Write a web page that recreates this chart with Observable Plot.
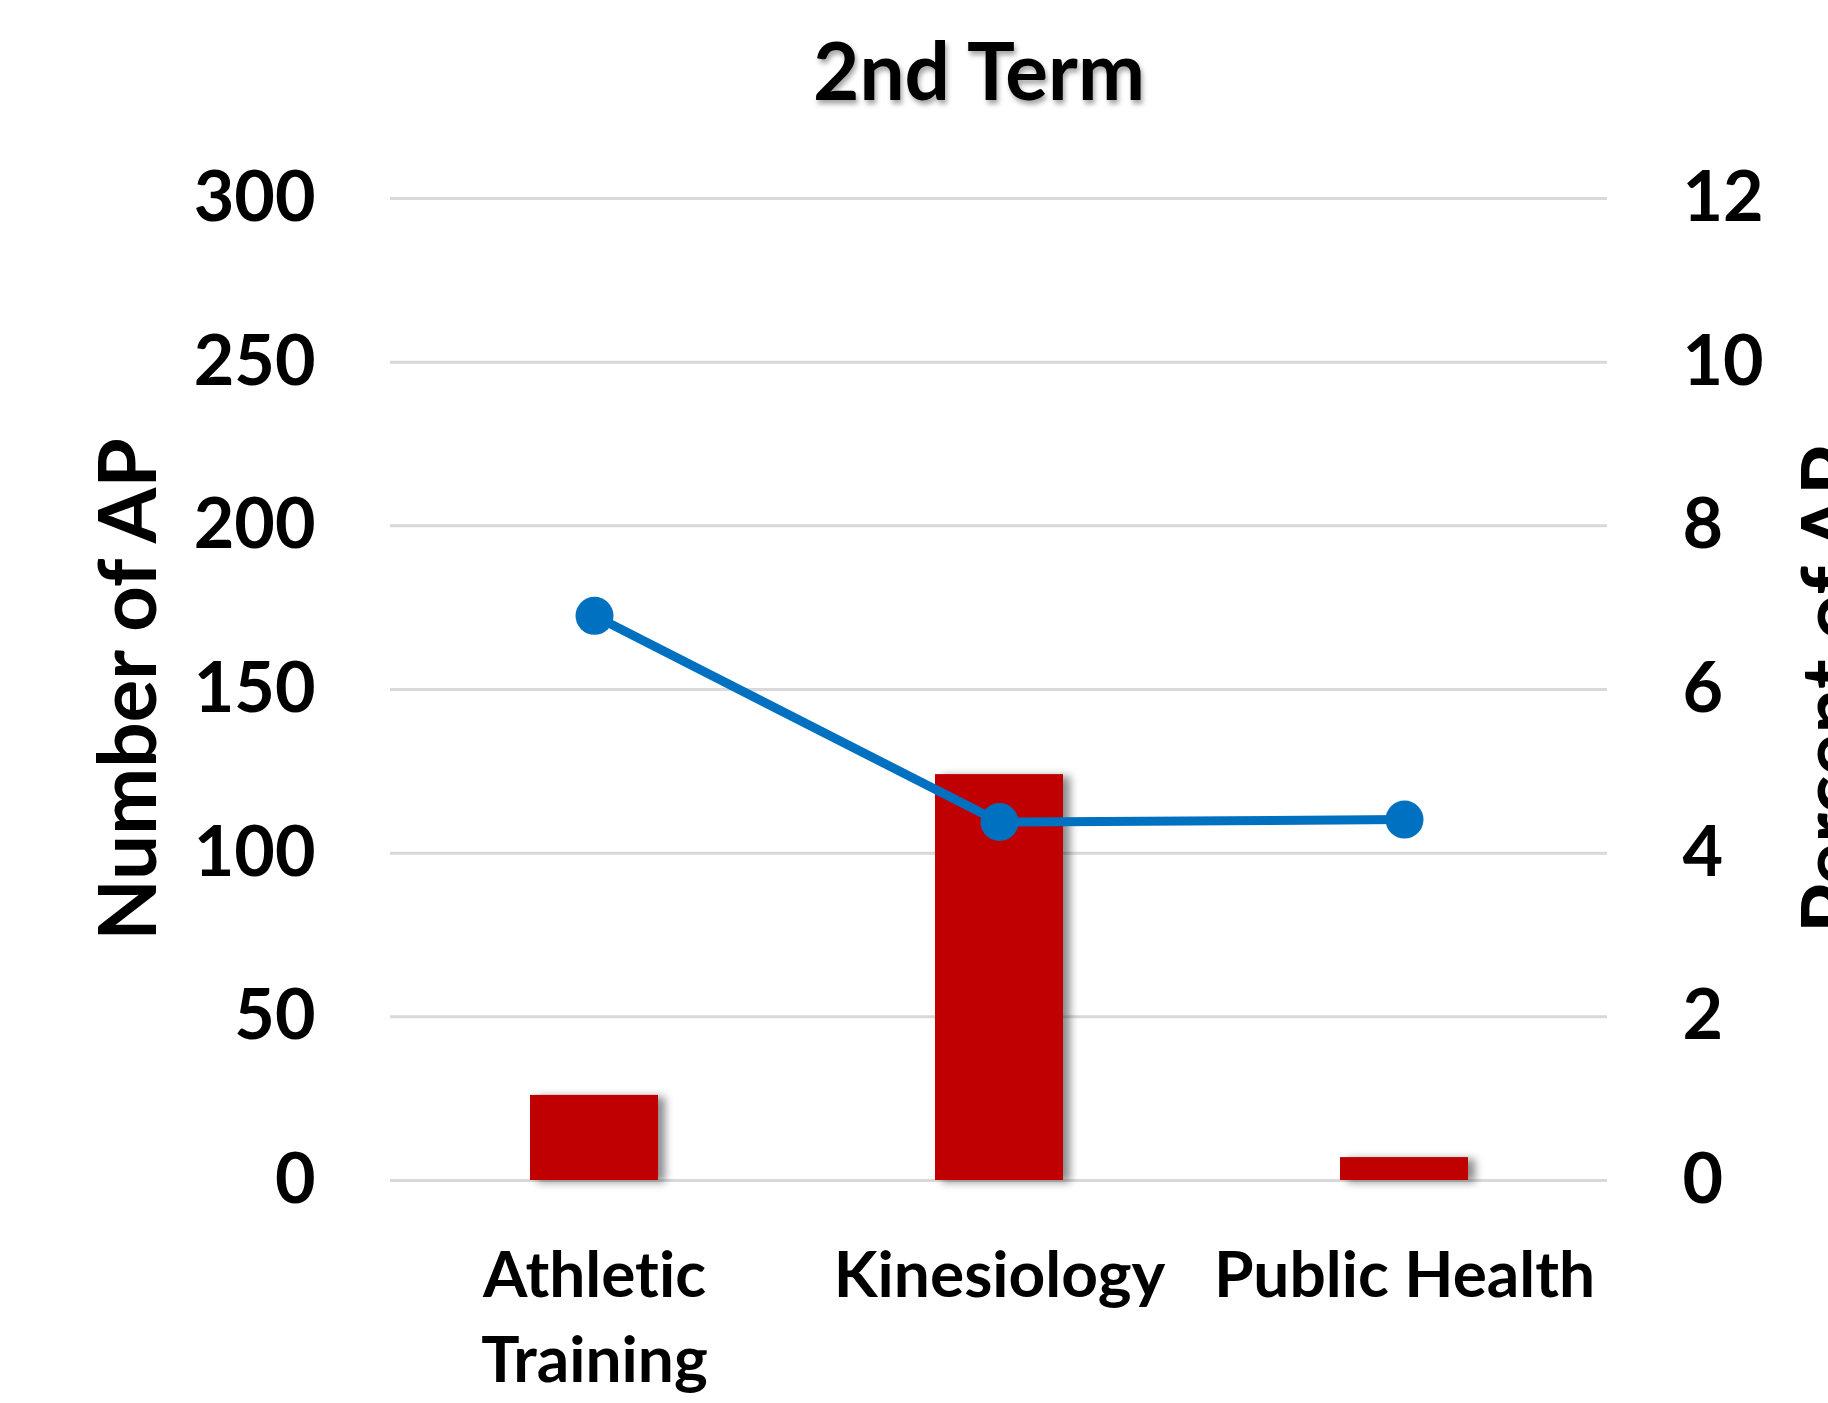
<!DOCTYPE html>
<html>
<head>
<meta charset="utf-8">
<script src="https://cdn.jsdelivr.net/npm/d3@7"></script>
<script src="https://cdn.jsdelivr.net/npm/@observablehq/plot@0.6"></script>
<style>
  html, body { margin: 0; padding: 0; background: #fff; }
  #chart svg { display: block; font-variant-ligatures: none; }
  #chart svg text { font-variant-ligatures: none; }
</style>
</head>
<body>
<div id="chart"></div>
<script>
const title = "2nd Term";
const categories = ["Athletic Training", "Kinesiology", "Public Health"];
const categoryLabels = ["Athletic\nTraining", "Kinesiology", "Public Health"];
const counts = [26, 124, 7];
const percents = [6.9, 4.38, 4.41];
const leftTicks = [0, 50, 100, 150, 200, 250, 300];
const rightTicks = [0, 2, 4, 6, 8, 10, 12];
const leftLabel = "Number of AP";
const rightLabel = "Percent of AP";

const ratio = 300 / 12; // right axis 0-12 maps onto left 0-300
const rows = categories.map((c, i) => ({cat: c, label: categoryLabels[i], count: counts[i], pct: percents[i]}));

const plot = Plot.plot({
  width: 1828,
  height: 1403,
  marginLeft: 390,
  marginRight: 221,
  marginTop: 198,
  marginBottom: 223,
  style: {fontFamily: "Lato, 'Open Sans', sans-serif", fontWeight: "bold", fontSize: "70px", color: "#000", background: "#fff", overflow: "visible"},
  x: {type: "band", domain: categories, paddingInner: 0.6845, paddingOuter: 0.342, axis: null},
  y: {domain: [0, 300], axis: null},
  marks: [
    Plot.ruleY(leftTicks, {stroke: "#d9d9d9", strokeWidth: 3}),
    Plot.barY(rows, {x: "cat", y: "count", fill: "#C00000"}),
    Plot.line(rows, {x: "cat", y: d => d.pct * ratio, stroke: "#0070C0", strokeWidth: 9}),
    Plot.dot(rows, {x: "cat", y: d => d.pct * ratio, r: 19, fill: "#0070C0", stroke: "none"}),
    Plot.axisY({anchor: "left", ticks: leftTicks, tickSize: 0, tickPadding: 75, fontSize: 70, label: null}),
    Plot.axisY({anchor: "right", ticks: rightTicks.map(t => t * ratio), tickFormat: d => String(d / ratio), tickSize: 0, tickPadding: 75, fontSize: 70, label: null}),
    Plot.text(rows, {x: "cat", text: "label", frameAnchor: "bottom", lineAnchor: "top", dy: 56, fontSize: 64, lineHeight: 1.33, fill: "#000"}),
    Plot.text([leftLabel], {frameAnchor: "left", textAnchor: "middle", lineAnchor: "middle", rotate: -90, dx: -260, fontSize: 80, fill: "#000"}),
    Plot.text([rightLabel], {frameAnchor: "right", textAnchor: "middle", lineAnchor: "middle", rotate: -90, dx: 226, fontSize: 80, fill: "#000"}),
    Plot.text([title], {frameAnchor: "top", textAnchor: "middle", lineAnchor: "middle", dy: -124, dx: -20, fontSize: 80, fill: "#000"})
  ]
});

document.getElementById("chart").appendChild(plot);

// soft shadows like the original office chart
const svg = d3.select(plot);
const defs = svg.insert("defs", ":first-child");
defs.append("filter").attr("id", "barShadow").attr("x", "-20%").attr("y", "-20%").attr("width", "150%").attr("height", "150%")
  .append("feDropShadow").attr("dx", 7).attr("dy", 2).attr("stdDeviation", 4).attr("flood-color", "#000").attr("flood-opacity", 0.45);
defs.append("filter").attr("id", "textShadow").attr("x", "-10%").attr("y", "-30%").attr("width", "130%").attr("height", "170%")
  .append("feDropShadow").attr("dx", 2).attr("dy", 4).attr("stdDeviation", 2.5).attr("flood-color", "#000").attr("flood-opacity", 0.35);
svg.selectAll('g[aria-label="bar"]').attr("filter", "url(#barShadow)");
svg.selectAll('g[aria-label="text"]').filter(function() { return d3.select(this).text() === title; }).attr("filter", "url(#textShadow)");
</script>
</body>
</html>
